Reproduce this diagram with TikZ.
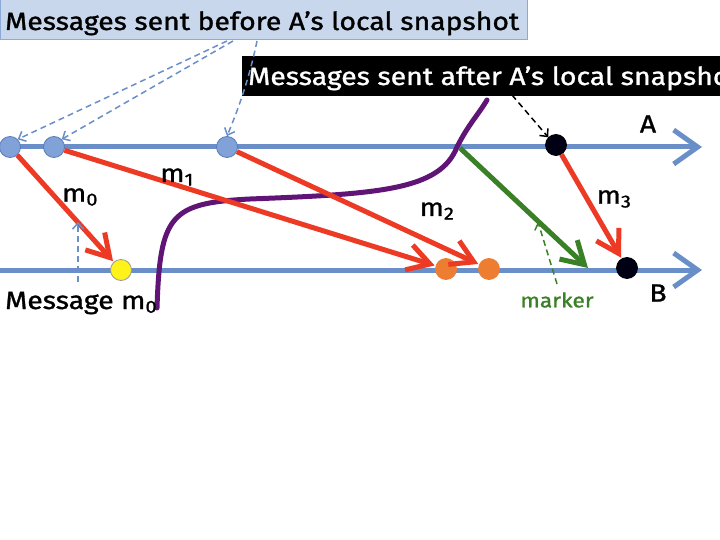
\documentclass[tikz,border=0pt]{standalone}
\usepackage{fontspec}
\setmainfont{Fira Sans}[FakeStretch=1.14,FakeBold=1.2]
\usetikzlibrary{arrows.meta}
\definecolor{lineblue}{RGB}{106,143,200}
\definecolor{dotblue}{RGB}{128,162,216}
\definecolor{dotblueb}{RGB}{90,125,185}
\definecolor{msgred}{RGB}{236,58,36}
\definecolor{mgreen}{RGB}{58,128,38}
\definecolor{mpurple}{RGB}{96,20,118}
\definecolor{boxfill}{RGB}{200,215,236}
\definecolor{boxline}{RGB}{140,170,215}
\definecolor{dorange}{RGB}{237,125,49}
\tikzset{
  timeline/.style={draw=lineblue,line width=5bp,-{Straight Barb[length=24bp,width=34bp,line width=5bp]}},
  msg/.style={draw=msgred,line width=5bp,-{Straight Barb[length=22bp,width=26bp,line width=5bp]},shorten >=1bp},
  markarrow/.style={draw=mgreen,line width=5bp,-{Straight Barb[length=22bp,width=26bp,line width=5bp]}},
  dotbase/.style={circle,minimum size=21bp,inner sep=0pt,line width=0.8bp},
  bluedot/.style={dotbase,fill=dotblue,draw=dotblueb},
  blackdot/.style={dotbase,fill=black!92!blue,draw=black},
  orangedot/.style={dotbase,fill=dorange,draw=dorange},
  yellowdot/.style={dotbase,fill=yellow!90!white,draw=black!40},
  pointer/.style={draw=lineblue,line width=1.5bp,dash pattern=on 6bp off 4bp,-{Straight Barb[length=6bp,width=11bp,line width=1.5bp]}},
  lbl/.style={font=\fontsize{25}{28}\selectfont,text=black,inner sep=0pt},
}
\begin{document}
\begin{tikzpicture}[x=1bp,y=-1bp]
\useasboundingbox (0,0) rectangle (720,540);
\fill[white] (0,0) rectangle (720,540);
% boxes
\node[fill=boxfill,draw=boxline,line width=1bp,anchor=south west,minimum width=527bp,minimum height=44bp,inner sep=0pt] (before) at (0,40) {};
\node[lbl,anchor=base west] (beforetxt) at (5,30) {Messages sent before A’s local snapshot};
\begin{scope}
\clip (0,0) rectangle (720,540);
\node[fill=black,anchor=north west,minimum width=500bp,minimum height=40bp,inner sep=0pt] (after) at (242,56) {};
\node[lbl,text=white,anchor=base west] (aftertxt) at (248,85) {Messages sent after A’s local snapshot};
\end{scope}
% timelines
\coordinate (A0) at (0,147);
\coordinate (A1) at (702,147);
\coordinate (B0) at (0,270);
\coordinate (B1) at (702,270);
\draw[timeline] (A0) -- (A1);
\draw[timeline] (B0) -- (B1);
\node[lbl] (Alab) at (648,124) {A};
\node[lbl] (Blab) at (658,293) {B};
% purple cut
\draw[mpurple,line width=5bp,line cap=round] (157,308) .. controls (160,215) and (170,203) .. (250,199)
  .. controls (380,194) and (440,190) .. (457,147) .. controls (468,125) and (478,115) .. (487,100);
% dots
\node[bluedot] (a1) at (10,147) {};
\node[bluedot] (a2) at (54,147) {};
\node[bluedot] (a3) at (227,147) {};
\node[blackdot] (a4) at (556,145) {};
\node[yellowdot] (b1) at (121,270) {};
\node[orangedot] (b2) at (446,269) {};
\node[orangedot] (b3) at (489,269) {};
\node[blackdot] (b4) at (627,268) {};
% messages
\draw[msg] (a1) -- (b1);
\draw[msg] (a2) -- (b2);
\draw[msg] (a3) -- (b3);
\draw[msg] (a4) -- (b4);
\coordinate (g1) at (460,148);
\coordinate (g2) at (588,268);
\draw[markarrow] (g1) -- (g2);
% labels
\node[lbl] (m0) at (80,197) {m\textsubscript{0}};
\node[lbl] (m1) at (177,177) {m\textsubscript{1}};
\node[lbl] (m2) at (437,211) {m\textsubscript{2}};
\node[lbl] (m3) at (614,199) {m\textsubscript{3}};
\node[lbl,anchor=base west] (msgm0) at (5,309) {Message m\textsubscript{0}};
\node[font=\fontsize{20}{22}\selectfont,text=mgreen,inner sep=0pt] (marker) at (557,300) {marker};
% pointers
\coordinate (p1) at (227,41);
\coordinate (p2) at (233,41);
\coordinate (p3) at (257,41);
\draw[pointer] (p1) -- (a1.north east);
\draw[pointer] (p2) -- (a2.north east);
\draw[pointer] (p3) .. controls (250,75) and (240,105) .. (a3.north);
\coordinate (q1) at (78,282);
\coordinate (q2) at (78,222);
\draw[pointer] (q1) -- (q2);
\coordinate (r1) at (557,284);
\coordinate (r2) at (538,222);
\draw[pointer,draw=mgreen] (r1) -- (r2);
\coordinate (s1) at (512,95);
\draw[pointer,draw=black] (s1) -- (a4.north west);
\end{tikzpicture}
\end{document}
